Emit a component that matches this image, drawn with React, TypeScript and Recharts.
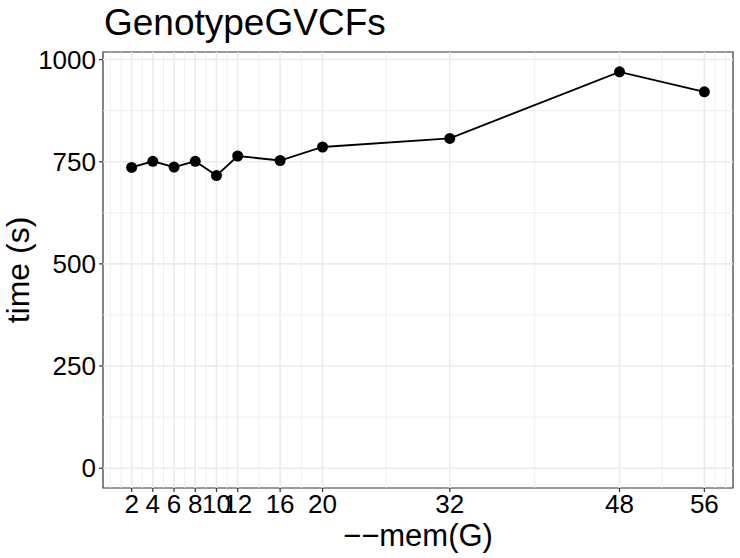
import React from 'react';
import { LineChart, Line, XAxis, YAxis, ReferenceLine, ReferenceArea } from 'recharts';

// --mem values (G) and GenotypeGVCFs run time (s)
const memGb = [2, 4, 6, 8, 10, 12, 16, 20, 32, 48, 56];
const timeSec = [736, 751, 737, 751, 716, 764, 753, 786, 807, 970, 921];

const xTicks = [2, 4, 6, 8, 10, 12, 16, 20, 32, 48, 56];
const xMinor = [0, 1, 3, 5, 7, 9, 11, 14, 18, 26, 40, 52, 57, 58];
const yTicks = [0, 250, 500, 750, 1000];
const yMinor = [125, 375, 625, 875];

const chartData = memGb.map((m, i) => ({ mem: m, time: timeSec[i] }));

const FONT = '"Liberation Sans", Arial, Helvetica, sans-serif';
const GRID = '#EBEBEB';
const X_DOMAIN: [number, number] = [-0.7, 58.7];
const Y_DOMAIN: [number, number] = [-48.5, 1018.5];

const App: React.FC = () => {
  return (
    <div style={{ position: 'absolute', left: 0, top: 0, width: 740, height: 558, background: '#fff', fontFamily: FONT }}>
      <LineChart width={740} height={558} data={chartData} margin={{ top: 52, right: 7, bottom: 0, left: 0 }}>
        {xMinor.map((v) => (
          <ReferenceLine key={'xm' + v} x={v} stroke={GRID} strokeWidth={0.8} />
        ))}
        {yMinor.map((v) => (
          <ReferenceLine key={'ym' + v} y={v} stroke={GRID} strokeWidth={0.8} />
        ))}
        {xTicks.map((v) => (
          <ReferenceLine key={'xM' + v} x={v} stroke={GRID} strokeWidth={1.6} />
        ))}
        {yTicks.map((v) => (
          <ReferenceLine key={'yM' + v} y={v} stroke={GRID} strokeWidth={1.6} />
        ))}
        <XAxis
          dataKey="mem"
          type="number"
          domain={X_DOMAIN}
          ticks={xTicks}
          interval={0}
          allowDataOverflow
          height={70}
          axisLine={false}
          tickLine={{ stroke: '#333333', strokeWidth: 1.2 }}
          tickSize={4}
          tickMargin={3}
          tick={{ fill: '#000', fontSize: 26, fontFamily: FONT }}
        />
        <YAxis
          type="number"
          domain={Y_DOMAIN}
          ticks={yTicks}
          interval={0}
          allowDataOverflow
          width={103}
          axisLine={false}
          tickLine={{ stroke: '#333333', strokeWidth: 1.2 }}
          tickSize={4}
          tickMargin={3}
          tick={{ fill: '#000', fontSize: 26, fontFamily: FONT }}
        />
        <ReferenceArea
          x1={X_DOMAIN[0]}
          x2={X_DOMAIN[1]}
          y1={Y_DOMAIN[0]}
          y2={Y_DOMAIN[1]}
          fill="none"
          stroke="#333333"
          strokeWidth={1.2}
          ifOverflow="visible"
        />
        <Line
          dataKey="time"
          type="linear"
          stroke="#000"
          strokeWidth={1.8}
          dot={{ r: 5.5, fill: '#000', stroke: '#000', strokeWidth: 0 }}
          activeDot={false}
          isAnimationActive={false}
        />
      </LineChart>
      <div style={{ position: 'absolute', left: 104, top: 1, fontSize: 37, lineHeight: '44px', color: '#000', whiteSpace: 'nowrap' }}>
        GenotypeGVCFs
      </div>
      <div style={{ position: 'absolute', left: 103, width: 630, top: 517, textAlign: 'center', fontSize: 31, lineHeight: '38px', color: '#000', whiteSpace: 'nowrap' }}>
        −−mem(G)
      </div>
      <div
        style={{
          position: 'absolute',
          left: 18,
          top: 270,
          transform: 'translate(-50%, -50%) rotate(-90deg)',
          fontSize: 32,
          lineHeight: '38px',
          color: '#000',
          whiteSpace: 'nowrap',
        }}
      >
        time (s)
      </div>
    </div>
  );
};

export default App;
